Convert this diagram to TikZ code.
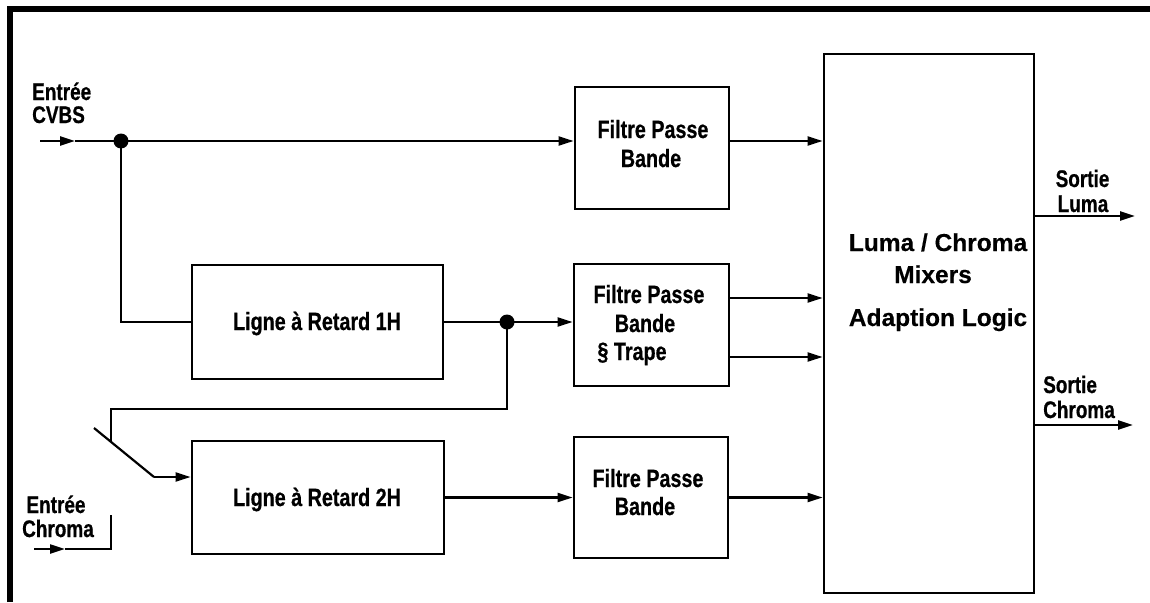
\documentclass[tikz,border=0pt]{standalone}
\usepackage{fontspec}
\setmainfont{Liberation Sans}[BoldFeatures={FakeBold=0.3}]
\newfontfamily\narrowfont{Liberation Sans}[FakeStretch=0.79, BoldFeatures={FakeBold=0.6}]
\usetikzlibrary{arrows.meta}

\tikzset{
  wire/.style={line width=2.2pt},
  sig/.style={wire, -{Triangle[length=15pt,width=9pt]}},
  block/.style={draw, line width=2.8pt, inner sep=0pt},
  junction/.style={circle, fill, inner sep=0pt, minimum size=15pt},
  lbl/.style={font=\narrowfont\bfseries\fontsize{24}{27}\selectfont, inner sep=0pt},
  blktxt/.style={font=\narrowfont\bfseries\fontsize{25}{30}\selectfont, anchor=base, inner sep=0pt},
  mixtxt/.style={font=\bfseries\fontsize{24.5}{30}\selectfont, anchor=base, inner sep=0pt},
}

\begin{document}
\begin{tikzpicture}[x=1pt, y=-1pt]
\useasboundingbox (0,0) rectangle (1150,602);

% frame (top and left edges)
\draw[line width=6pt, line join=miter] (10,602) -- (10,9) -- (1150,9);

% blocks
\node[block, minimum width=154pt, minimum height=122pt] (fpb1) at (652,148) {};
\node[block, minimum width=251pt, minimum height=114pt] (lr1) at (317.5,322) {};
\node[block, minimum width=155pt, minimum height=122pt] (fpb2) at (651.5,325) {};
\node[block, minimum width=252pt, minimum height=113pt] (lr2) at (318,497.5) {};
\node[block, minimum width=154pt, minimum height=121pt] (fpb3) at (651,497.5) {};
\node[block, minimum width=210pt, minimum height=539pt] (main) at (929,323.5) {};

% block texts
\node[blktxt] (t1a) at (653,138) {Filtre Passe};
\node[blktxt] (t1b) at (651,167) {Bande};
\node[blktxt] (t2a) at (649,303) {Filtre Passe};
\node[blktxt] (t2b) at (645,332) {Bande};
\node[blktxt] (t2c) at (632,360) {§ Trape};
\node[blktxt] (t3a) at (648,487) {Filtre Passe};
\node[blktxt] (t3b) at (645,515) {Bande};
\node[blktxt] (tl1) at (317,330) {Ligne à Retard 1H};
\node[blktxt] (tl2) at (317,506) {Ligne à Retard 2H};
\node[mixtxt] (tm1) at (938,251) {Luma / Chroma};
\node[mixtxt] (tm2) at (933,283) {Mixers};
\node[mixtxt] (tm3) at (938,326) {Adaption Logic};

% input / output labels
\node[lbl, anchor=base west] (in1a) at (32,100) {Entrée};
\node[lbl, anchor=base west] (in1b) at (32,123) {CVBS};
\node[lbl, anchor=base] (in2a) at (56,513) {Entrée};
\node[lbl, anchor=base] (in2b) at (58,537) {Chroma};
\node[lbl, anchor=base] (out1a) at (1082.5,187) {Sortie};
\node[lbl, anchor=base] (out1b) at (1083,212) {Luma};
\node[lbl, anchor=base west] (out2a) at (1043,393) {Sortie};
\node[lbl, anchor=base west] (out2b) at (1043,418) {Chroma};

% junctions
\node[junction] (dot1) at (121,141) {};
\node[junction] (dot2) at (507,322) {};

% CVBS input and top path
\coordinate (cvbs) at (40,141);
\coordinate (cvbsarr) at (75,141);
\draw[sig] (cvbs) -- (cvbsarr);
\draw[wire] (cvbsarr) -- (dot1.center);
\draw[sig] (dot1.center) -- (dot1 -| fpb1.west);
\draw[sig] (dot1 -| fpb1.east) -- (dot1 -| main.west);

% 1H delay path
\draw[wire] (dot1.center) |- (lr1.west);
\draw[wire] (lr1.east) -- (dot2.center);
\draw[sig] (dot2.center) -- (dot2 -| fpb2.west);
\coordinate (o2a) at (729,298);
\coordinate (o2b) at (729,357);
\draw[sig] (o2a) -- (o2a -| main.west);
\draw[sig] (o2b) -- (o2b -| main.west);

% switch feeding the 2H delay
\coordinate (swtop) at (111,409);
\coordinate (swc) at (111,442);
\coordinate (swa) at (94,428);
\coordinate (swb) at (154,477);
\draw[wire] (dot2.center) |- (swtop) -- (swc);
\draw[wire] (swa) -- (swb);
\draw[sig] (swb) -- (swb -| lr2.west);

% chroma input
\coordinate (chin) at (34,549);
\coordinate (charr) at (65,549);
\coordinate (chc) at (111,549);
\coordinate (chtop) at (111,515);
\draw[sig] (chin) -- (charr);
\draw[wire] (charr) -- (chc) -- (chtop);

% 2H delay path
\draw[sig] (lr2.east) -- (lr2.east -| fpb3.west);
\draw[sig] (fpb3.east) -- (fpb3.east -| main.west);

% outputs
\coordinate (luma) at (1034,216);
\coordinate (lumaout) at (1135,216);
\coordinate (chroma) at (1034,425);
\coordinate (chromaout) at (1133,425);
\draw[sig] (luma) -- (lumaout);
\draw[sig] (chroma) -- (chromaout);
\end{tikzpicture}
\end{document}
